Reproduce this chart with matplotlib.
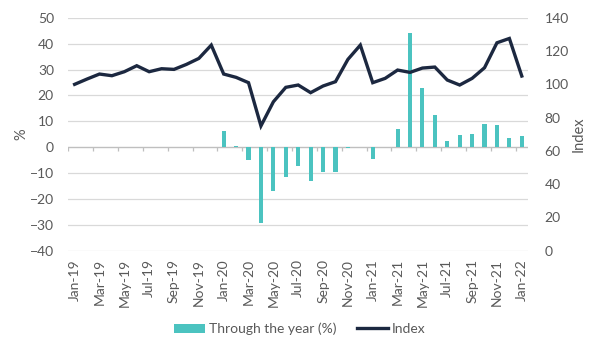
import matplotlib
matplotlib.use("Agg")
import matplotlib.pyplot as plt
import numpy as np

months = ["Jan-19","Feb-19","Mar-19","Apr-19","May-19","Jun-19","Jul-19","Aug-19","Sep-19","Oct-19","Nov-19","Dec-19",
          "Jan-20","Feb-20","Mar-20","Apr-20","May-20","Jun-20","Jul-20","Aug-20","Sep-20","Oct-20","Nov-20","Dec-20",
          "Jan-21","Feb-21","Mar-21","Apr-21","May-21","Jun-21","Jul-21","Aug-21","Sep-21","Oct-21","Nov-21","Dec-21",
          "Jan-22"]

through_year = [np.nan]*12 + [6.2, 0.5, -5.0, -29.2, -16.8, -11.4, -7.1, -12.9, -9.6, -9.6, -0.3, 0.0,
                              -4.7, 0.0, 7.0, 44.0, 23.0, 12.4, 2.4, 4.7, 5.2, 9.1, 8.5, 3.7, 4.4]

index_vals = [100.0, 103.2, 106.2, 105.2, 107.6, 111.2, 107.6, 109.4, 109.0, 112.0, 115.6, 123.6,
              106.2, 104.2, 101.0, 75.0, 89.5, 98.2, 99.6, 95.0, 99.0, 101.6, 115.0, 123.6,
              101.0, 103.6, 108.6, 107.2, 109.8, 110.4, 102.6, 99.6, 103.6, 110.0, 125.0, 127.6,
              105.0]

left_ticks = [-40, -30, -20, -10, 0, 10, 20, 30, 40, 50]
right_ticks = [0, 20, 40, 60, 80, 100, 120, 140]

bar_color = "#4BC3C0"
line_color = "#1C2840"
text_color = "#595959"
grid_color = "#D9D9D9"

plt.rcParams['font.family'] = ['Lato', 'DejaVu Sans']

fig = plt.figure(figsize=(6, 3.5), dpi=100)
ax = fig.add_axes([0.113, 0.284, 0.767, 0.665])
x = np.arange(len(months))

ax.set_ylim(-40, 50)
ax.set_xlim(-0.55, len(months) - 0.5)
ax.set_yticks(left_ticks)
ax.grid(axis='y', color=grid_color, linewidth=0.9)
ax.set_axisbelow(True)
for s in ax.spines.values():
    s.set_visible(False)
ax.axhline(0, color="#BFBFBF", linewidth=0.9, zorder=1)

# tick marks on zero line between categories, every 2 months
tick_pos = np.arange(-0.5, len(months), 2)
ax.vlines(tick_pos, -1.6, 0, colors="#BFBFBF", linewidth=0.9, zorder=1)

ax.set_xticks(x[::2])
ax.set_xticklabels(months[::2], rotation=90, color=text_color, fontsize=10)
ax.tick_params(axis='x', length=0, pad=6)
ax.tick_params(axis='y', length=0, labelcolor=text_color, labelsize=10, pad=10)
ax.set_ylabel("%", color=text_color, fontsize=10.5, labelpad=1)

ax2 = ax.twinx()
ax2.set_ylim(0, 140)
ax2.set_yticks(right_ticks)
for s in ax2.spines.values():
    s.set_visible(False)
ax2.tick_params(axis='y', length=0, labelcolor=text_color, labelsize=10, pad=12)
ax2.set_ylabel("Index", color=text_color, fontsize=10.5, labelpad=2)

bars = ax.bar(x, through_year, width=0.33, color=bar_color, zorder=3, label="Through the year (%)")
line, = ax2.plot(x, index_vals, color=line_color, linewidth=2.4, solid_joinstyle='miter', label="Index")

fig.legend([bars, line], ["Through the year (%)", "Index"], loc='center', bbox_to_anchor=(0.5, 0.06),
           ncol=2, frameon=False, fontsize=10, labelcolor=text_color, handlelength=2.2,
           handletextpad=0.3, columnspacing=1.5)

fig.savefig("out.png", dpi=100)
